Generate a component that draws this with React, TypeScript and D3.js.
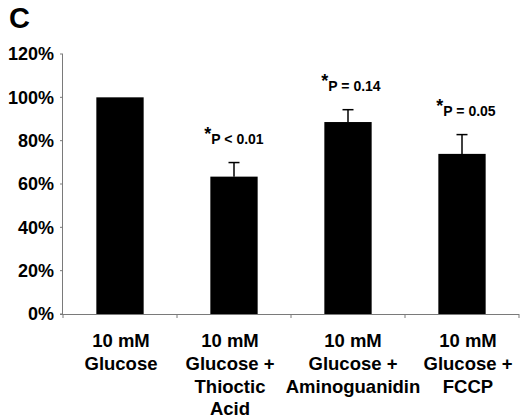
import React from "react";
import * as d3 from "d3";

const categories = ["glucose", "thioctic", "aminoguanidin", "fccp"];
const categoryLines = [
  ["10 mM", "Glucose"],
  ["10 mM", "Glucose +", "Thioctic", "Acid"],
  ["10 mM", "Glucose +", "Aminoguanidin"],
  ["10 mM", "Glucose +", "FCCP"],
];
const values = [100, 63.4, 88.6, 73.9];
const errors = [0, 6.5, 5.7, 8.9];
const pLabels = ["", "P < 0.01", "P = 0.14", "P = 0.05"];
const yTicks = [0, 20, 40, 60, 80, 100, 120];

const W = 520;
const H = 418;
const FONT = "'Liberation Sans', Arial, sans-serif";

// excel-style wrapped labels don't sit exactly on the bar centre
const labelShift = [1, -4, 5, 6];
const pShift = [0, 0, 3, 4];

const App: React.FC = () => {
  const y = d3.scaleLinear().domain([0, 120]).range([314, 54]);
  const x = d3
    .scaleBand<string>()
    .domain(categories)
    .range([63, 519])
    .paddingInner(0.585)
    .paddingOuter(0.2925);

  const axisColor = "#7a7a7a";
  const step = x.step();
  const x0 = 63;

  return (
    <>
      <style>{`body{margin:0}`}</style>
      <svg width={W} height={H} style={{ display: "block", fontFamily: FONT }}>
        <rect width={W} height={H} fill="#fff" />

        {/* panel letter */}
        <text x={9} y={28} fontSize={29} fontWeight="bold">
          C
        </text>

        {/* y axis */}
        <line x1={x0 - 0.5} x2={x0 - 0.5} y1={y(120)} y2={y(0)} stroke={axisColor} />
        {yTicks.map((t) => (
          <g key={t}>
            <line x1={x0 - 3} x2={x0} y1={y(t)} y2={y(t)} stroke={axisColor} />
            <text
              x={54}
              y={y(t)}
              dy="0.36em"
              textAnchor="end"
              fontSize={18}
              fontWeight="bold"
            >
              {t}%
            </text>
          </g>
        ))}

        {/* x axis */}
        <line x1={x0 - 3} x2={519} y1={y(0) + 0.5} y2={y(0) + 0.5} stroke={axisColor} />
        {d3.range(categories.length + 1).map((i) => (
          <line
            key={i}
            x1={x0 + i * step}
            x2={x0 + i * step}
            y1={y(0)}
            y2={y(0) + 4}
            stroke={axisColor}
          />
        ))}

        {/* bars */}
        {categories.map((c, i) => {
          const cx = (x(c) ?? 0) + x.bandwidth() / 2;
          const top = y(values[i]);
          const errTop = y(values[i] + errors[i]);
          return (
            <g key={c}>
              <rect
                x={x(c)}
                y={top}
                width={x.bandwidth()}
                height={y(0) - top}
                fill="#000"
              />
              {errors[i] > 0 && (
                <g stroke="#000" strokeWidth={1.5}>
                  <line x1={cx} x2={cx} y1={top} y2={errTop} />
                  <line x1={cx - 5.5} x2={cx + 5.5} y1={errTop} y2={errTop} />
                </g>
              )}
              {pLabels[i] && (
                <text
                  x={cx + pShift[i]}
                  y={errTop - 19}
                  textAnchor="middle"
                  fontSize={14}
                  fontWeight="bold"
                >
                  <tspan fontSize={18} dy={-4}>
                    *
                  </tspan>
                  <tspan dy={4}>{pLabels[i]}</tspan>
                </text>
              )}
              {categoryLines[i].map((line, j) => (
                <text
                  key={j}
                  x={cx + labelShift[i]}
                  y={347 + j * 22.8}
                  textAnchor="middle"
                  fontSize={18.5}
                  fontWeight="bold"
                >
                  {line}
                </text>
              ))}
            </g>
          );
        })}
      </svg>
    </>
  );
};

export default App;
